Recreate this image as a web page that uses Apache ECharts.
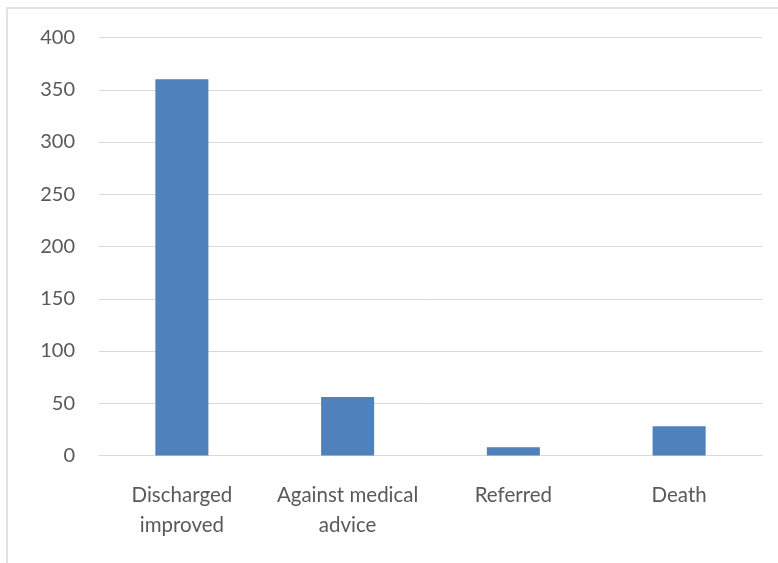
<!DOCTYPE html>
<html>
<head>
<meta charset="utf-8">
<style>
  html, body { margin: 0; padding: 0; background: #ffffff; }
  #chart { width: 778px; height: 563px; }
</style>
<script src="https://cdn.jsdelivr.net/npm/echarts@6/dist/echarts.min.js"></script>
</head>
<body>
<div id="chart"></div>
<script>
// Patient outcomes
const categories = ['Discharged\nimproved', 'Against medical\nadvice', 'Referred', 'Death'];
const patients = [360, 56, 8, 28];
const yTicks = { min: 0, max: 400, interval: 50 };

const chart = echarts.init(document.getElementById('chart'));
chart.setOption({
  animation: false,
  backgroundColor: '#ffffff',
  graphic: [{
    type: 'rect',
    shape: { x: 7, y: 8, width: 800, height: 600 },
    style: { fill: 'none', stroke: '#d9d9d9', lineWidth: 1.5 },
    silent: true
  }],
  grid: { left: 99, right: 16, top: 37.5, bottom: 107.5 },
  xAxis: {
    type: 'category',
    data: categories,
    axisLine: { show: true, lineStyle: { color: '#d9d9d9', width: 1 } },
    axisTick: { show: false },
    axisLabel: {
      color: '#595959',
      fontFamily: 'Lato',
      fontSize: 20.5,
      lineHeight: 30,
      margin: 25,
      interval: 0
    }
  },
  yAxis: {
    type: 'value',
    min: yTicks.min,
    max: yTicks.max,
    interval: yTicks.interval,
    axisLine: { show: false },
    axisTick: { show: false },
    splitLine: { lineStyle: { color: '#d9d9d9', width: 1 } },
    axisLabel: {
      color: '#595959',
      fontFamily: 'Lato',
      fontSize: 20,
      margin: 24
    }
  },
  series: [{
    type: 'bar',
    data: patients,
    barWidth: '32%',
    itemStyle: { color: '#4f81bd' }
  }]
});
</script>
</body>
</html>
